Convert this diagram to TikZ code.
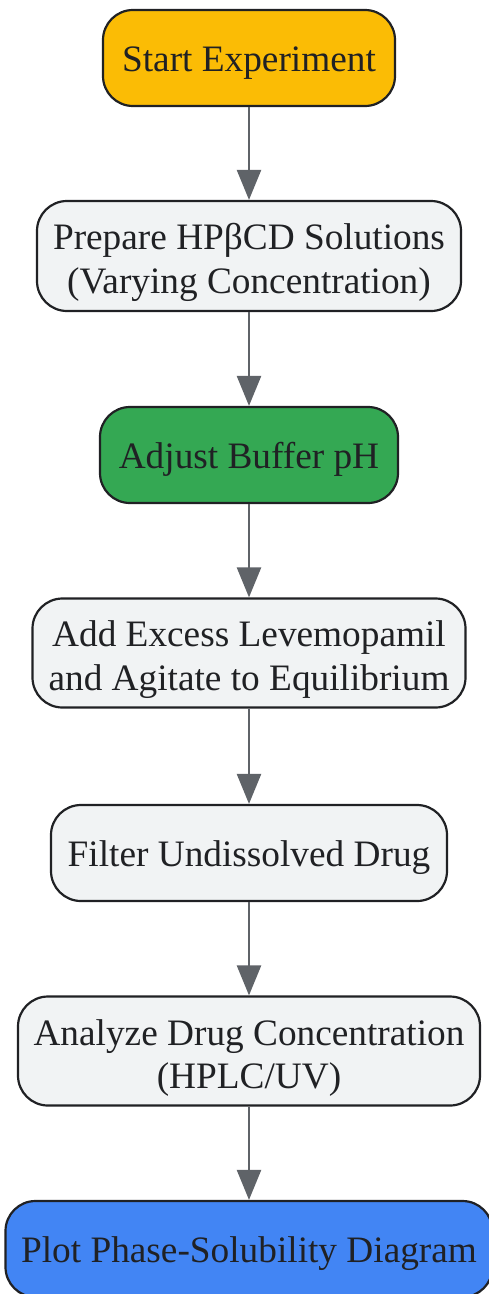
\documentclass[tikz,border=0pt]{standalone}
\usepackage{fontspec}
\setmainfont{Liberation Serif}
\usepackage{xcolor}
\usetikzlibrary{arrows.meta}

\definecolor{edgegray}{HTML}{5F6368}
\definecolor{inkdark}{HTML}{202124}
\definecolor{startyellow}{HTML}{FBBC05}
\definecolor{stepgray}{HTML}{F1F3F4}
\definecolor{phgreen}{HTML}{34A853}
\definecolor{plotblue}{HTML}{4285F4}

\tikzset{
  stepbox/.style={draw=inkdark, line width=2.2pt, rounded corners=30pt,
    fill=stepgray, text=inkdark, align=center, inner sep=0pt,
    font=\fontsize{37.3}{43.5}\selectfont,
    execute at begin node={\rule{0pt}{35pt}}},
  twolines/.style={execute at begin node={\rule{0pt}{83pt}}},
  flow/.style={draw=edgegray, line width=2.5pt,
    -{Triangle[length=30pt,width=24pt]}}
}

\begin{document}
\begin{tikzpicture}[x=1pt,y=-1pt]
    \useasboundingbox (0,0) rectangle (489,1294);
    \node[stepbox, fill=startyellow, minimum width=292pt, minimum height=96pt] (start) at (249,58) {Start Experiment};
    \node[stepbox, twolines, minimum width=424pt, minimum height=110pt] (prepare) at (249,256) {Prepare HPβCD Solutions\\(Varying Concentration)};
    \node[stepbox, fill=phgreen, minimum width=298pt, minimum height=96pt] (buffer) at (249,455) {Adjust Buffer pH};
    \node[stepbox, twolines, minimum width=433pt, minimum height=109pt] (agitate) at (249,653) {Add Excess Levemopamil\\and Agitate to Equilibrium};
    \node[stepbox, minimum width=396pt, minimum height=96pt] (filter) at (249,853) {Filter Undissolved Drug};
    \node[stepbox, twolines, minimum width=462pt, minimum height=109pt] (analyze) at (249,1051) {Analyze Drug Concentration\\(HPLC/UV)};
    \node[stepbox, fill=plotblue, minimum width=487pt, minimum height=96pt] (plot) at (249,1249) {Plot Phase-Solubility Diagram};
    \draw[flow] (start) -- (prepare);
    \draw[flow] (prepare) -- (buffer);
    \draw[flow] (buffer) -- (agitate);
    \draw[flow] (agitate) -- (filter);
    \draw[flow] (filter) -- (analyze);
    \draw[flow] (analyze) -- (plot);
\end{tikzpicture}
\end{document}
